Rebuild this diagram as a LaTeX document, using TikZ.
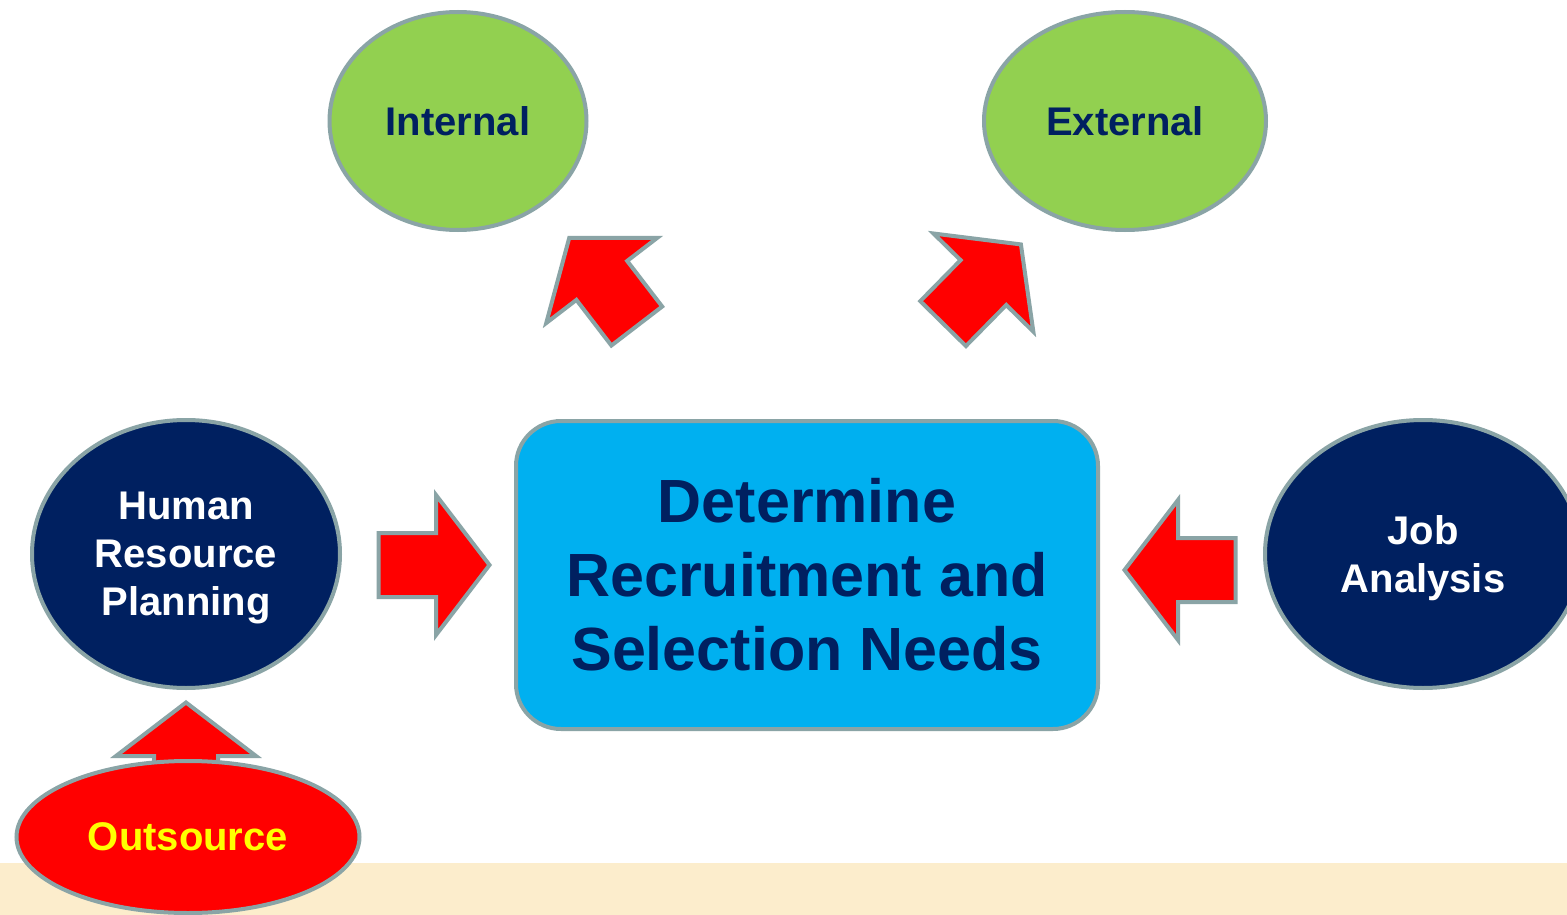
\documentclass[tikz,border=0pt]{standalone}
\usepackage{fontspec}
\setmainfont{Liberation Sans}
\usetikzlibrary{shapes.geometric}
\definecolor{navy}{HTML}{002060}
\definecolor{skyblue}{HTML}{00B0F0}
\definecolor{leafgreen}{HTML}{92D050}
\definecolor{rimgray}{RGB}{138,164,166}
\definecolor{sand}{RGB}{252,237,204}
\definecolor{arrowred}{HTML}{FF0000}
\definecolor{sunyellow}{HTML}{FFFF00}
\tikzset{
  bubble/.style={ellipse, draw=rimgray, line width=4pt, inner sep=0pt, align=center,
    text depth=0pt, font=\bfseries\fontsize{40}{48}\selectfont},
  needbox/.style={draw=rimgray, line width=4pt, fill=skyblue, rounded corners=45pt,
    text=navy, align=center, font=\bfseries\fontsize{61}{74}\selectfont},
  blockarrow/.pic={
    \draw[draw=rimgray, fill=arrowred, line width=4pt, line join=miter]
      (-55.5,-32) -- (2,-32) -- (2,-70) -- (55.5,0) -- (2,70) -- (2,32) -- (-55.5,32) -- cycle;
  }
}
\begin{document}
\begin{tikzpicture}[x=1pt,y=-1pt]
  \clip (0,0) rectangle (1567,915);
  \fill[white] (0,0) rectangle (1567,915);
  \fill[sand] (0,863) rectangle (1567,915);
  \node[bubble, fill=leafgreen, text=navy, minimum width=257pt, minimum height=218pt] (internal) at (458,121) {Internal};
  \node[bubble, fill=leafgreen, text=navy, minimum width=282pt, minimum height=218pt] (external) at (1125,121) {External};
  \node[bubble, fill=navy, text=white, minimum width=308pt, minimum height=268pt] (hrp) at (186,554) {Human\\Resource\\Planning};
  \node[bubble, fill=navy, text=white, minimum width=316pt, minimum height=268pt] (job) at (1423,554) {Job\\Analysis};
  \node[needbox, minimum width=582pt, minimum height=308pt] (needs) at (807,575) {Determine\\Recruitment and\\Selection Needs};
  \pic[rotate=127.5] at (603,282) {blockarrow};
  \pic[rotate=45.5] at (982,284) {blockarrow};
  \pic at (434,565) {blockarrow};
  \pic[rotate=180] at (1180,570) {blockarrow};
  \pic[rotate=90] at (186,758) {blockarrow};
  \node[bubble, fill=arrowred, text=sunyellow, minimum width=343pt, minimum height=152pt] (outsource) at (188,837) {Outsource};
\end{tikzpicture}
\end{document}
